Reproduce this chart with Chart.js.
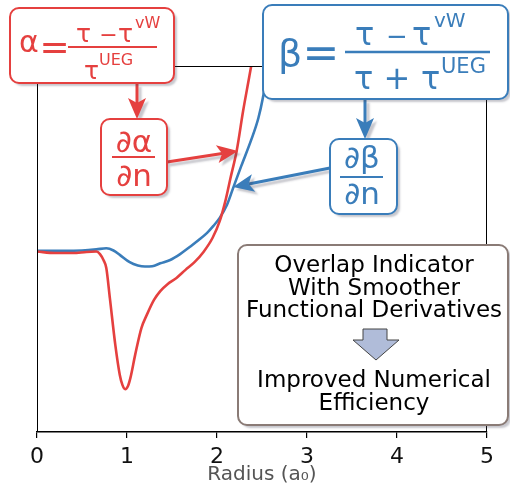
<!DOCTYPE html>
<html>
<head>
<meta charset="utf-8">
<script src="https://cdn.jsdelivr.net/npm/chart.js@4/dist/chart.umd.min.js"></script>
<style>
  html, body { margin: 0; padding: 0; background: #fff; }
</style>
</head>
<body>
<canvas id="chart" width="510" height="493"></canvas>
<script>
// Radius grid (a0) and values (arbitrary units)
const alphaRadius = [0, 0.2, 0.4, 0.55, 0.66, 0.70, 0.74, 0.77, 0.81, 0.87, 0.92, 0.95, 0.98, 1.01, 1.04, 1.09, 1.16, 1.22, 1.30, 1.37, 1.45, 1.55, 1.65, 1.75, 1.85, 1.95, 2.03, 2.09, 2.15, 2.22, 2.29, 2.35, 2.38, 2.42];
const alphaValues = [0.493, 0.489, 0.489, 0.492, 0.493, 0.486, 0.469, 0.448, 0.365, 0.238, 0.156, 0.128, 0.117, 0.125, 0.150, 0.210, 0.284, 0.320, 0.361, 0.385, 0.404, 0.421, 0.443, 0.464, 0.492, 0.530, 0.576, 0.628, 0.694, 0.770, 0.877, 0.959, 1.0, 1.06];

const betaRadius = [0, 0.3, 0.5, 0.66, 0.77, 0.85, 0.92, 1.03, 1.12, 1.20, 1.28, 1.37, 1.48, 1.59, 1.70, 1.80, 1.89, 1.96, 2.03, 2.11, 2.18, 2.27, 2.38, 2.46, 2.51, 2.55, 2.59];
const betaValues = [0.495, 0.495, 0.496, 0.499, 0.502, 0.496, 0.484, 0.464, 0.455, 0.452, 0.453, 0.461, 0.470, 0.486, 0.506, 0.525, 0.544, 0.563, 0.585, 0.620, 0.667, 0.727, 0.798, 0.858, 0.913, 0.973, 1.044];

const xTicks = [0, 1, 2, 3, 4, 5];
const infoLines = ['Overlap Indicator', 'With Smoother', 'Functional Derivatives'];
const resultLines = ['Improved Numerical', 'Efficiency'];

const FONT = "'DejaVu Sans', sans-serif";
const RED = '#e5403f';
const BLUE = '#3a7dba';
const GREY = '#8a7b76';

function shadowOn(ctx) {
  ctx.shadowColor = 'rgba(70, 70, 90, 0.3)';
  ctx.shadowOffsetX = 3;
  ctx.shadowOffsetY = 3;
  ctx.shadowBlur = 2;
}
function shadowOff(ctx) {
  ctx.shadowColor = 'transparent';
  ctx.shadowOffsetX = 0;
  ctx.shadowOffsetY = 0;
  ctx.shadowBlur = 0;
}

function box(ctx, x, y, w, h, color) {
  ctx.save();
  shadowOn(ctx);
  ctx.beginPath();
  ctx.roundRect(x, y, w, h, 9);
  ctx.fillStyle = '#fff';
  ctx.fill();
  shadowOff(ctx);
  ctx.lineWidth = 2;
  ctx.strokeStyle = color;
  ctx.stroke();
  ctx.restore();
}

function arrow(ctx, x1, y1, x2, y2, color) {
  const a = Math.atan2(y2 - y1, x2 - x1);
  const c = Math.cos(a), s = Math.sin(a);
  const len = 21, half = 9;
  const bx = x2 - len * c, by = y2 - len * s;
  ctx.save();
  shadowOn(ctx);
  ctx.strokeStyle = color;
  ctx.fillStyle = color;
  ctx.lineWidth = 3;
  ctx.beginPath();
  ctx.moveTo(x1, y1);
  ctx.lineTo(x2 - (len - 5) * c, y2 - (len - 5) * s);
  ctx.stroke();
  ctx.beginPath();
  ctx.moveTo(x2, y2);
  ctx.lineTo(bx - half * s, by + half * c);
  ctx.lineTo(x2 - (len - 5) * c, y2 - (len - 5) * s);
  ctx.lineTo(bx + half * s, by - half * c);
  ctx.closePath();
  ctx.fill();
  ctx.restore();
}

function txt(ctx, s, x, y, size, color, align) {
  ctx.font = size + 'px ' + FONT;
  ctx.fillStyle = color;
  ctx.textAlign = align || 'left';
  ctx.textBaseline = 'alphabetic';
  ctx.fillText(s, x, y);
}

function bar(ctx, x1, x2, y, color, w) {
  ctx.beginPath();
  ctx.moveTo(x1, y);
  ctx.lineTo(x2, y);
  ctx.lineWidth = w;
  ctx.strokeStyle = color;
  ctx.stroke();
}

const framePlugin = {
  id: 'frame',
  afterDatasetsDraw(chart) {
    const { ctx, chartArea: a } = chart;
    const l = Math.round(a.left) + 0.5, t = Math.round(a.top) + 0.5, r = Math.round(a.right) - 0.5;
    ctx.save();
    ctx.strokeStyle = '#000';
    ctx.lineWidth = 1;
    ctx.beginPath();
    ctx.moveTo(l, a.bottom);
    ctx.lineTo(l, t);
    ctx.lineTo(r, t);
    ctx.lineTo(r, a.bottom);
    ctx.stroke();
    ctx.restore();
  }
};

const notesPlugin = {
  id: 'notes',
  afterDraw(chart) {
    const ctx = chart.ctx;
    ctx.save();

    // arrows first, boxes on top
    arrow(ctx, 137, 84, 137, 119, RED);
    arrow(ctx, 167, 162, 238, 151, RED);
    arrow(ctx, 365, 100, 365, 139, BLUE);
    arrow(ctx, 330, 168, 233, 187, BLUE);

    // alpha definition
    box(ctx, 10, 8, 164, 75, RED);
    txt(ctx, 'α', 19, 52, 30, RED);
    txt(ctx, '=', 54.5, 58.5, 36, RED, 'center');
    bar(ctx, 68, 157, 47, RED, 2);
    txt(ctx, 'τ', 76, 42, 25, RED);
    txt(ctx, '−', 108.5, 42, 22, RED, 'center');
    txt(ctx, 'τ', 118, 42, 25, RED);
    txt(ctx, 'vW', 135, 28, 16, RED);
    txt(ctx, 'τ', 84, 79, 25, RED);
    txt(ctx, 'UEG', 99, 65, 16, RED);

    // d alpha / dn
    box(ctx, 101, 119, 66, 76, RED);
    txt(ctx, '∂α', 134, 152, 31, RED, 'center');
    bar(ctx, 112, 155, 157, RED, 2);
    txt(ctx, '∂n', 134, 186, 31, RED, 'center');

    // beta definition
    box(ctx, 263, 5, 245, 94, BLUE);
    txt(ctx, 'β', 278, 66, 38, BLUE);
    txt(ctx, '=', 321, 68.3, 44, BLUE, 'center');
    bar(ctx, 345, 490, 52, BLUE, 2.5);
    txt(ctx, 'τ', 355, 45, 32, BLUE);
    txt(ctx, '−', 397, 45, 26, BLUE, 'center');
    txt(ctx, 'τ', 412, 45, 32, BLUE);
    txt(ctx, 'vW', 434, 27, 20, BLUE);
    txt(ctx, 'τ', 354, 89, 32, BLUE);
    txt(ctx, '+', 397, 89, 32, BLUE, 'center');
    txt(ctx, 'τ', 421, 89, 32, BLUE);
    txt(ctx, 'UEG', 441, 73, 21, BLUE);

    // d beta / dn
    box(ctx, 330, 139, 67, 75, BLUE);
    txt(ctx, '∂β', 362, 168, 31, BLUE, 'center');
    bar(ctx, 340, 383, 177, BLUE, 2);
    txt(ctx, '∂n', 362, 204, 31, BLUE, 'center');

    // summary box
    box(ctx, 238, 245, 270, 180, GREY);
    const tops = [272, 295, 317];
    infoLines.forEach((l, i) => txt(ctx, l, 374, tops[i], 23, '#000', 'center'));
    const bots = [387, 410];
    resultLines.forEach((l, i) => txt(ctx, l, 374, bots[i], 23, '#000', 'center'));

    // block arrow
    ctx.beginPath();
    ctx.moveTo(363, 329);
    ctx.lineTo(387, 329);
    ctx.lineTo(387, 340);
    ctx.lineTo(399, 340);
    ctx.lineTo(376, 360);
    ctx.lineTo(353, 340);
    ctx.lineTo(363, 340);
    ctx.closePath();
    ctx.fillStyle = '#b0bcd9';
    ctx.fill();
    ctx.lineWidth = 1;
    ctx.strokeStyle = '#444';
    ctx.stroke();

    ctx.restore();
  }
};

new Chart(document.getElementById('chart'), {
  type: 'line',
  data: {
    datasets: [
      {
        label: 'alpha',
        data: alphaRadius.map((r, i) => ({ x: r, y: alphaValues[i] })),
        borderColor: RED,
        borderWidth: 2.6,
        pointRadius: 0,
        cubicInterpolationMode: 'monotone',
        fill: false
      },
      {
        label: 'beta',
        data: betaRadius.map((r, i) => ({ x: r, y: betaValues[i] })),
        borderColor: BLUE,
        borderWidth: 2.6,
        pointRadius: 0,
        cubicInterpolationMode: 'monotone',
        fill: false
      }
    ]
  },
  options: {
    responsive: false,
    animation: false,
    layout: { padding: { left: 37, right: 23, top: 66, bottom: 11 } },
    plugins: {
      legend: { display: false },
      tooltip: { enabled: false }
    },
    scales: {
      x: {
        type: 'linear',
        min: 0,
        max: 5,
        afterBuildTicks: axis => { axis.ticks = xTicks.map(v => ({ value: v })); },
        grid: { display: true, drawOnChartArea: false, drawTicks: true, tickLength: 6, color: '#000', lineWidth: 1.2 },
        border: { display: true, color: '#000', width: 1.5 },
        ticks: { color: '#111', font: { family: FONT, size: 22, lineHeight: 1.0 }, padding: 8 },
        title: {
          display: true,
          text: 'Radius (a₀)',
          color: '#555',
          font: { family: FONT, size: 20, lineHeight: 0.3 },
          padding: { top: -4, bottom: 4 }
        }
      },
      y: { display: false, min: 0, max: 1 }
    }
  },
  plugins: [framePlugin, notesPlugin]
});
</script>
</body>
</html>
